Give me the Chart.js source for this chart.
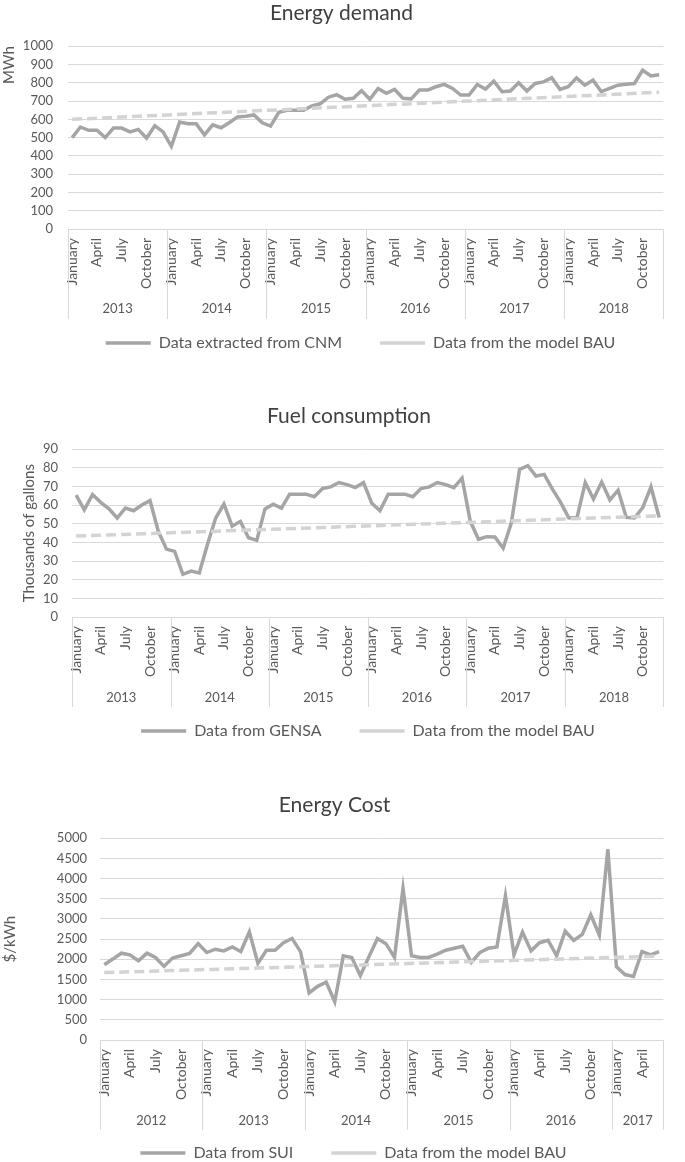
<!DOCTYPE html>
<html>
<head>
<meta charset="utf-8">
<title>Energy demand, fuel consumption and energy cost</title>
<script src="https://cdn.jsdelivr.net/npm/chart.js@4.4.0/dist/chart.umd.min.js"></script>
<style>
  html, body { margin: 0; padding: 0; background: #fff; overflow: hidden; }
  body { width: 685px; height: 1162px; position: relative; }
  .box { position: absolute; left: 0; width: 685px; }
</style>
</head>
<body>
<div class="box" style="top:0;height:385px"><canvas id="demandChart"></canvas></div>
<div class="box" style="top:402px;height:371px"><canvas id="fuelChart"></canvas></div>
<div class="box" style="top:792px;height:404px"><canvas id="costChart"></canvas></div>

<script>
const monthNames = ['January', 'February', 'March', 'April', 'May', 'June', 'July',
  'August', 'September', 'October', 'November', 'December'];

// Energy demand (MWh), January 2013 - December 2018
const demandYears = ['2013', '2014', '2015', '2016', '2017', '2018'];
const demandCNM = [
  500, 558, 540, 540, 500, 552, 552, 531, 545, 497, 565, 531,
  452, 585, 576, 576, 515, 570, 554, 581, 613, 617, 624, 581,
  563, 638, 649, 649, 649, 674, 685, 721, 735, 710, 715, 757,
  710, 769, 742, 764, 715, 712, 760, 760, 778, 791, 769, 733,
  733, 791, 766, 809, 751, 755, 800, 755, 796, 805, 827, 764,
  778, 827, 787, 814, 751, 769, 787, 792, 796, 868, 837, 844
];
const demandBAU = [600, 748]; // model line: first and last month

// Fuel consumption (thousands of gallons), January 2013 - December 2018
const fuelYears = ['2013', '2014', '2015', '2016', '2017', '2018'];
const fuelGENSA = [
  65.4, 57.5, 65.7, 61.5, 58.0, 53.1, 58.4, 57.0, 60.1, 62.4, 46.1, 36.4,
  35.2, 22.9, 24.6, 23.6, 39.0, 53.1, 60.6, 48.7, 51.3, 42.5, 41.1, 58.0,
  60.5, 58.4, 65.9, 65.9, 65.9, 64.5, 68.9, 69.8, 72.1, 71.0, 69.4, 72.1,
  61.0, 57.0, 65.9, 65.9, 65.9, 64.5, 68.9, 69.8, 72.1, 71.0, 69.4, 74.5,
  51.3, 41.7, 43.1, 42.9, 36.9, 50.5, 79.1, 81.2, 75.6, 76.5, 68.6, 61.5,
  53.1, 53.4, 72.1, 63.3, 72.4, 62.8, 68.0, 53.4, 53.1, 58.7, 69.8, 53.4
];
const fuelBAU = [43.4, 54.3];

// Energy cost ($/kWh), January 2012 - June 2017
const costYears = ['2012', '2013', '2014', '2015', '2016', '2017'];
const costSUI = [
  1866, 2005, 2151, 2110, 1964, 2151, 2045, 1825, 2029, 2086, 2143, 2387,
  2167, 2249, 2208, 2306, 2192, 2680, 1899, 2224, 2224, 2411, 2517, 2184,
  1166, 1329, 1435, 946, 2086, 2045, 1598, 2060, 2517, 2387, 2045, 3755,
  2086, 2045, 2045, 2127, 2224, 2273, 2322, 1923, 2167, 2273, 2306, 3576,
  2110, 2672, 2208, 2411, 2468, 2086, 2696, 2468, 2615, 3103, 2599, 4731,
  1817, 1622, 1573, 2192, 2110, 2192
];
const costBAU = [1670, 2080];

Chart.defaults.font.family = 'Lato, "Open Sans", sans-serif';
Chart.defaults.color = '#595959';

// vertical separators between the year groups of the two-row x axis
const yearDividers = {
    id: 'yearDividers',
    afterDraw(chart, args, opts) {
        const x2 = chart.scales.x2;
        const ctx = chart.ctx;
        const top = chart.chartArea.bottom;
        ctx.save();
        ctx.strokeStyle = '#D9D9D9';
        ctx.lineWidth = 1;
        opts.bounds.forEach(function (b) {
            const px = Math.round(x2.getPixelForValue(b)) + 0.5;
            ctx.beginPath();
            ctx.moveTo(px, top);
            ctx.lineTo(px, top + opts.depth);
            ctx.stroke();
        });
        ctx.restore();
    }
};

// legend padding doubles as item gap; pull the legend up into its own top padding
// and undo the trailing gap so the items sit centred
const legendPlace = {
    id: 'legendPlace',
    afterUpdate(chart, args, opts) {
        const l = chart.legend;
        if (!l) return;
        const half = l.options.labels.padding / 2;
        l.left += half;
        l.right += half;
        l.top -= opts.lift;
        l.bottom -= opts.lift;
    }
};

function makeChart(id, o) {
    const n = o.values.length;
    const labels = [];
    for (let i = 0; i < n; i++) {
        labels.push(monthNames[i % 12] + ' ' + o.years[Math.floor(i / 12)]);
    }
    const groups = o.years.map(function (y, k) {
        return { label: y, start: k * 12, end: Math.min(k * 12 + 12, n) - 1 };
    });
    const bounds = groups.map(g => g.start - 0.5).concat([n - 0.5]);
    const bau = new Array(n).fill(null);
    bau[0] = o.bau[0];
    bau[n - 1] = o.bau[1];

    return new Chart(document.getElementById(id).getContext('2d'), {
        type: 'line',
        data: {
            labels: labels,
            datasets: [{
                label: o.seriesName,
                data: o.values,
                borderColor: '#A5A5A5',
                borderWidth: 3.5,
                pointRadius: 0,
                tension: 0,
                order: 1
            }, {
                label: 'Data from the model BAU',
                data: bau,
                borderColor: '#D3D3D3',
                borderWidth: 3.5,
                borderDash: [10, 5],
                pointRadius: 0,
                spanGaps: true,
                order: 0
            }]
        },
        options: {
            responsive: true,
            maintainAspectRatio: false,
            animation: false,
            layout: { padding: { left: o.padLeft, right: o.padRight, top: 0, bottom: 0 } },
            plugins: {
                title: {
                    display: true,
                    text: o.title,
                    color: '#404040',
                    font: { size: 21, weight: 'normal' },
                    padding: { top: o.titlePad[0], bottom: o.titlePad[1] }
                },
                legend: {
                    position: 'bottom',
                    labels: {
                        usePointStyle: true,
                        pointStyle: 'line',
                        pointStyleWidth: 45,
                        padding: 38,
                        color: '#595959',
                        font: { size: 16 },
                        sort: (a, b) => a.datasetIndex - b.datasetIndex
                    }
                },
                tooltip: { enabled: false },
                yearDividers: { bounds: bounds, depth: 90 },
                legendPlace: { lift: o.legendLift }
            },
            scales: {
                x: {
                    type: 'category',
                    offset: true,
                    weight: 0,
                    grid: { display: false, drawTicks: false },
                    border: { display: false },
                    ticks: {
                        autoSkip: false,
                        minRotation: 90,
                        maxRotation: 90,
                        padding: 9,
                        color: '#595959',
                        font: { size: 14 },
                        callback: (v, i) => (i % 3 === 0 ? monthNames[i % 12] : '')
                    },
                    afterFit: s => { s.height = 70; }
                },
                x2: {
                    type: 'linear',
                    position: 'bottom',
                    weight: 1,
                    bounds: 'data',
                    min: -0.5,
                    max: n - 0.5,
                    grid: { display: false, drawTicks: false },
                    border: { display: false },
                    afterBuildTicks: s => {
                        s.ticks = groups.map(g => ({ value: (g.start + g.end) / 2 }));
                    },
                    ticks: {
                        autoSkip: false,
                        maxRotation: 0,
                        padding: o.yearPad,
                        color: '#595959',
                        font: { size: 13 },
                        callback: (v, i) => groups[i].label
                    },
                    afterFit: s => { s.height = 22; }
                },
                y: {
                    min: 0,
                    max: o.yMax,
                    grid: { color: '#D9D9D9', lineWidth: 1, drawTicks: false },
                    border: { display: false },
                    ticks: {
                        stepSize: o.yStep,
                        autoSkip: false,
                        padding: o.tickPad,
                        color: '#595959',
                        font: { size: 13 },
                        callback: v => String(v)
                    },
                    title: {
                        display: true,
                        text: o.yTitle,
                        align: o.yTitleAlign,
                        color: '#595959',
                        font: { size: 15 },
                        padding: { top: o.yTitlePad, bottom: 0 }
                    },
                    afterFit: s => { s.width = o.yWidth; }
                }
            }
        },
        plugins: [yearDividers, legendPlace]
    });
}

document.addEventListener('DOMContentLoaded', function () {
    // Chart 1: Energy demand
    makeChart('demandChart', {
        title: 'Energy demand', titlePad: [1, 20],
        seriesName: 'Data extracted from CNM',
        values: demandCNM, bau: demandBAU, years: demandYears,
        yMax: 1000, yStep: 100, yTitle: 'MWh', yTitleAlign: 'end', yTitlePad: 0,
        yWidth: 68, tickPad: 15, padLeft: 0, padRight: 2,
        yearPad: 2, legendLift: 24
    });

    // Chart 2: Fuel consumption
    makeChart('fuelChart', {
        title: 'Fuel consumption', titlePad: [1.5, 20.5],
        seriesName: 'Data from GENSA',
        values: fuelGENSA, bau: fuelBAU, years: fuelYears,
        yMax: 90, yStep: 10, yTitle: 'Thousands of gallons', yTitleAlign: 'center', yTitlePad: 4,
        yWidth: 56, tickPad: 14, padLeft: 16, padRight: 3,
        yearPad: 3, legendLift: 24
    });

    // Chart 3: Energy Cost
    makeChart('costChart', {
        title: 'Energy Cost', titlePad: [0.5, 20.5],
        seriesName: 'Data from SUI',
        values: costSUI, bau: costBAU, years: costYears,
        yMax: 5000, yStep: 500, yTitle: '$/kWh', yTitleAlign: 'center', yTitlePad: 1,
        yWidth: 100, tickPad: 13, padLeft: 0, padRight: 16,
        yearPad: 3, legendLift: 25
    });
});
</script>
</body>
</html>
